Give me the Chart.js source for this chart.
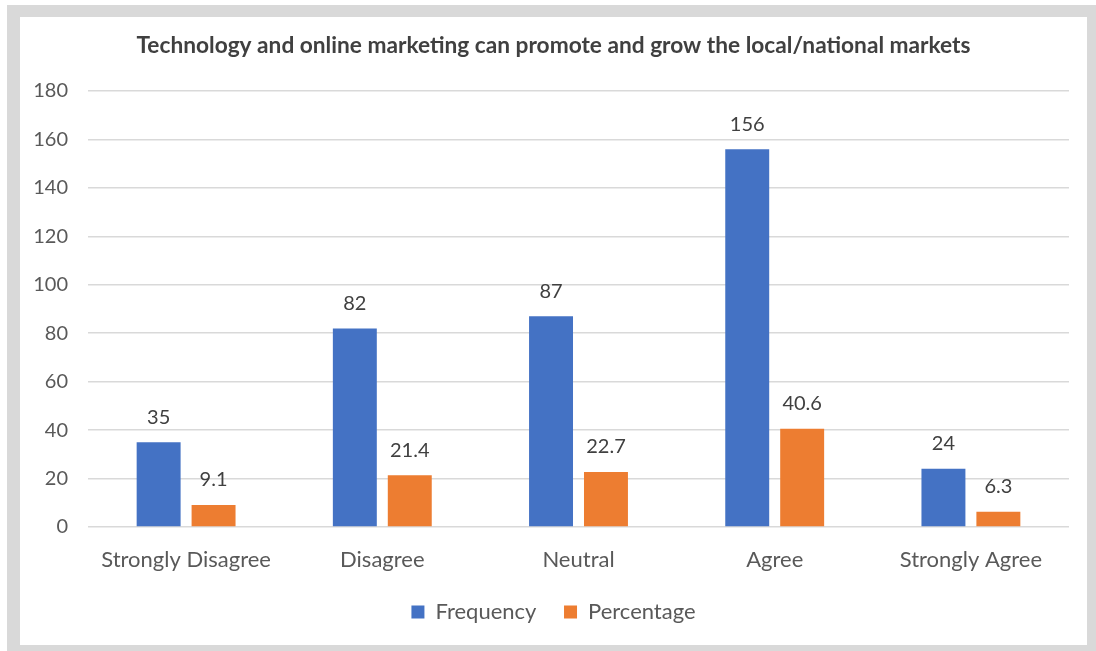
<!DOCTYPE html>
<html>
<head>
<meta charset="utf-8">
<title>Technology and online marketing</title>
<script src="https://cdn.jsdelivr.net/npm/chart.js@4/dist/chart.umd.min.js"></script>
<style>
    body { margin: 0; background: #ffffff; width: 1096px; height: 651px; overflow: hidden; }
    #frame { position: absolute; left: 7px; top: 5px; width: 1089px; height: 646px; background: #d9d9d9; }
    #panel { position: absolute; left: 20px; top: 17px; width: 1067px; height: 628px; background: #ffffff; }
</style>
</head>
<body>
<div id="frame"></div>
<div id="panel"><canvas id="barChart" width="1067" height="628"></canvas></div>

<script>
const categories = ["Strongly Disagree", "Disagree", "Neutral", "Agree", "Strongly Agree"];
const frequency = [35, 82, 87, 156, 24];
const percentage = [9.1, 21.4, 22.7, 40.6, 6.3];
const yTicks = [0, 20, 40, 60, 80, 100, 120, 140, 160, 180];

const FONT = "Lato, 'Open Sans', sans-serif";

// value labels above each bar
const barLabels = {
    id: "barLabels",
    afterDatasetsDraw(chart) {
        const ctx = chart.ctx;
        ctx.save();
        ctx.font = "20px " + FONT;
        ctx.fillStyle = "#404040";
        ctx.textAlign = "center";
        ctx.textBaseline = "middle";
        chart.data.datasets.forEach((ds, i) => {
            chart.getDatasetMeta(i).data.forEach((bar, j) => {
                ctx.fillText(String(ds.data[j]), bar.x, bar.y - 25);
            });
        });
        ctx.restore();
    }
};

new Chart(document.getElementById("barChart"), {
    type: "bar",
    data: {
        labels: categories,
        datasets: [
            {
                label: "Frequency",
                data: frequency,
                backgroundColor: "#4472C4",
                categoryPercentage: 0.56,
                barPercentage: 0.8
            },
            {
                label: "Percentage",
                data: percentage,
                backgroundColor: "#ED7D31",
                categoryPercentage: 0.56,
                barPercentage: 0.8
            }
        ]
    },
    options: {
        responsive: false,
        animation: false,
        layout: { padding: { left: 0, right: 0, top: 0, bottom: 12 } },
        plugins: {
            title: {
                display: true,
                text: "Technology and online marketing can promote and grow the local/national markets",
                color: "#404040",
                font: { family: FONT, size: 22.7, weight: "bold" },
                padding: { top: 14.6, bottom: 32.2 }
            },
            legend: {
                position: "bottom",
                labels: {
                    color: "#595959",
                    font: { family: FONT, size: 22 },
                    boxWidth: 13,
                    boxHeight: 13,
                    padding: 27.6
                }
            },
            tooltip: { enabled: false }
        },
        scales: {
            x: {
                afterFit(scale) { scale.height = 46.4; },
                grid: { display: false, drawTicks: false },
                border: { display: false },
                ticks: {
                    color: "#595959",
                    font: { family: FONT, size: 22 },
                    padding: 20
                }
            },
            y: {
                min: 0,
                max: 180,
                afterFit(scale) { scale.width = 68; },
                afterBuildTicks(scale) { scale.ticks = yTicks.map(v => ({ value: v })); },
                grid: { color: "#d9d9d9", lineWidth: 1.5, drawTicks: false },
                border: { display: false },
                ticks: {
                    color: "#595959",
                    font: { family: FONT, size: 20 },
                    padding: 20
                }
            },
            // empty strip on the right so the plot ends short of the panel edge
            yRight: {
                position: "right",
                afterFit(scale) { scale.width = 18; },
                grid: { display: false, drawTicks: false },
                border: { display: false },
                ticks: { display: false }
            }
        }
    },
    plugins: [barLabels]
});
</script>
</body>
</html>
